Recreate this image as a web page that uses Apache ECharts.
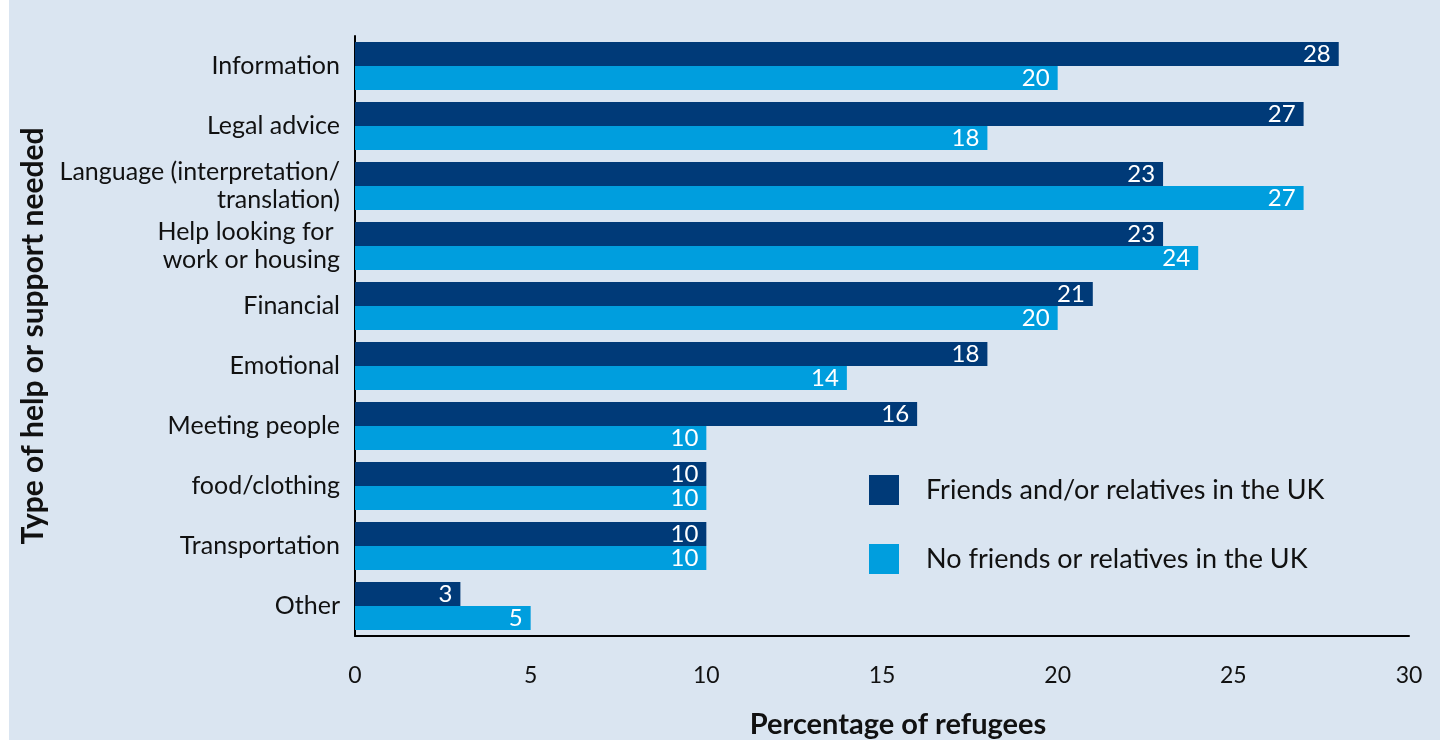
<!DOCTYPE html>
<html>
<head>
<meta charset="utf-8">
<script src="https://cdn.jsdelivr.net/npm/echarts@6/dist/echarts.min.js"></script>
<style>
  html, body { margin: 0; padding: 0; background: #dae5f1; }
  #chart { width: 1440px; height: 740px; }
</style>
</head>
<body>
<div id="chart"></div>
<script>
// categories top to bottom
const categories = [
  'Information',
  'Legal advice',
  'Language (interpretation/\ntranslation)',
  'Help looking for \nwork or housing',
  'Financial',
  'Emotional',
  'Meeting people',
  'food/clothing',
  'Transportation',
  'Other'
];
const withFriends = [28, 27, 23, 23, 21, 18, 16, 10, 10, 3];
const noFriends = [20, 18, 27, 24, 20, 14, 10, 10, 10, 5];
const seriesNames = ['Friends and/or relatives in the UK', 'No friends or relatives in the UK'];
const xTicks = { min: 0, max: 30, interval: 5 };

const FONT = 'Lato';
const el = document.getElementById('chart');
const chart = echarts.init(el);

const barLabel = {
  show: true,
  position: 'insideRight',
  distance: 8,
  color: '#fff',
  fontFamily: FONT,
  fontSize: 24
};

chart.setOption({
  backgroundColor: '#dae5f1',
  animation: false,
  textStyle: { fontFamily: FONT },
  graphic: [
    { type: 'rect', left: 0, top: 0, shape: { width: 9, height: 740 }, style: { fill: '#ffffff' } }
  ],
  grid: { left: 355, right: 31, top: 36, bottom: 104, containLabel: false, outerBoundsMode: 'none' },
  legend: {
    orient: 'vertical',
    left: 869,
    top: 475,
    padding: 0,
    itemWidth: 30,
    itemHeight: 30,
    itemGap: 39,
    icon: 'rect',
    textStyle: { fontFamily: FONT, fontSize: 27, color: '#111', padding: [0, 0, 0, 22] },
    data: seriesNames
  },
  xAxis: {
    type: 'value',
    min: xTicks.min,
    max: xTicks.max,
    interval: xTicks.interval,
    name: 'Percentage of refugees',
    nameLocation: 'middle',
    nameGap: 74,
    nameTextStyle: { fontFamily: FONT, fontSize: 29, fontWeight: 'bold', color: '#111', padding: [0, 0, 0, 32] },
    axisLine: { show: true, lineStyle: { color: '#000', width: 2 } },
    axisTick: { show: false },
    splitLine: { show: false },
    axisLabel: { color: '#111', fontFamily: FONT, fontSize: 23, margin: 28 }
  },
  yAxis: {
    type: 'category',
    inverse: true,
    data: categories,
    name: 'Type of help or support needed',
    nameLocation: 'middle',
    nameGap: 300,
    nameTextStyle: { fontFamily: FONT, fontSize: 30, fontWeight: 'bold', color: '#111' },
    axisLine: { show: true, lineStyle: { color: '#000', width: 2 } },
    axisTick: { show: false },
    axisLabel: { color: '#111', fontFamily: FONT, fontSize: 25, margin: 15, lineHeight: 28, align: 'right' }
  },
  series: [
    {
      name: seriesNames[0],
      type: 'bar',
      data: withFriends,
      barWidth: 24,
      barGap: '0%',
      itemStyle: { color: '#003a78' },
      label: barLabel
    },
    {
      name: seriesNames[1],
      type: 'bar',
      data: noFriends,
      barWidth: 24,
      barGap: '0%',
      itemStyle: { color: '#009ede' },
      label: barLabel
    }
  ]
});
</script>
</body>
</html>
